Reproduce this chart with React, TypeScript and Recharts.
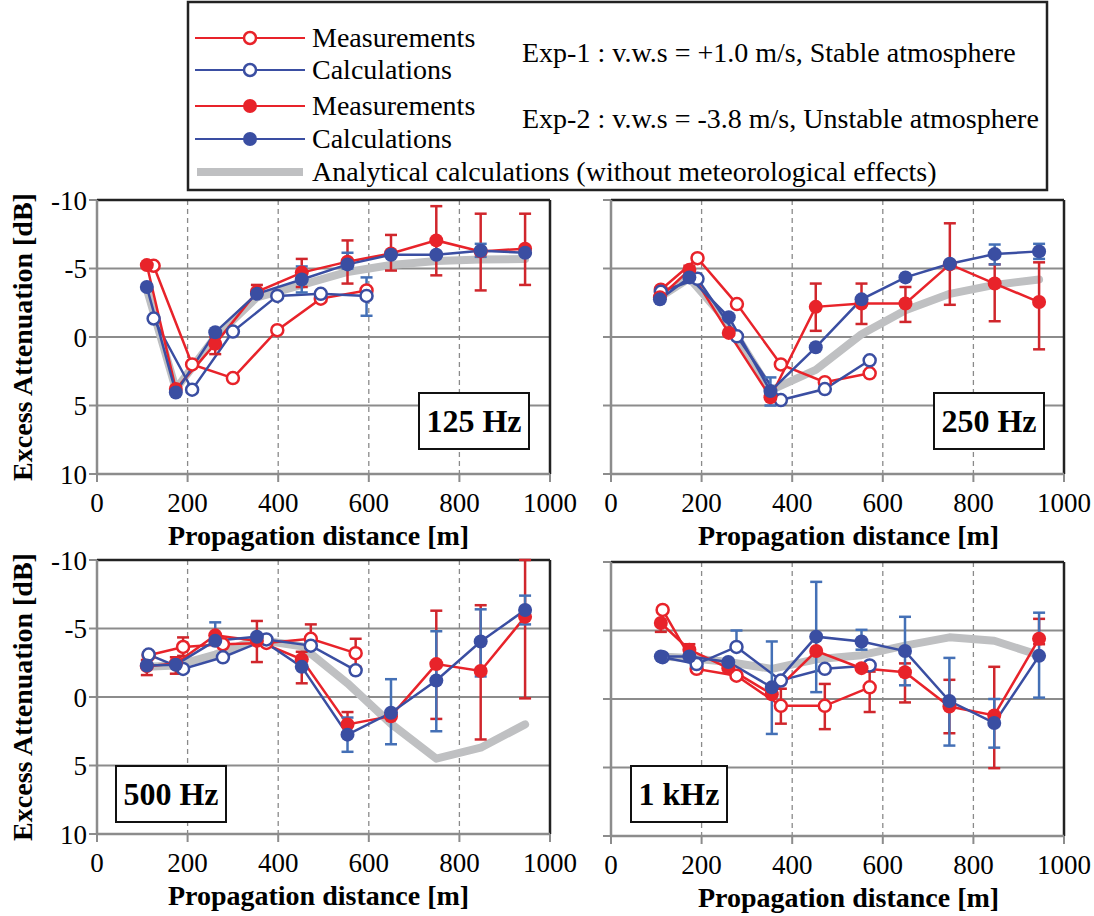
import React from "react";
import { LineChart, Line, XAxis, YAxis, CartesianGrid, ReferenceLine, ErrorBar } from "recharts";

const RED = "#e8232a";
const BLUE = "#3a4ea2";
const RED_ERR = "#d0262c";
const BLUE_ERR = "#4470b6";
const GREY = "#bfc0c2";
const AXIS = "#8c8c8c";
const FONT = '"Liberation Serif", "Times New Roman", serif';

type Range = [number, number] | null;

const xTicks = [0, 200, 400, 600, 800, 1000];
const yTicks = [-10, -5, 0, 5, 10];

// 125 Hz
const dist125Exp1 = [125, 210, 300, 398, 494, 595];
const meas125Exp1 = [-5.2, 2.0, 3.0, -0.5, -2.8, -3.4];
const calc125Exp1 = [-1.35, 3.85, -0.4, -3.0, -3.15, -3.0];
const dist125Exp2 = [110, 174, 261, 353, 452, 553, 649, 749, 847, 945];
const meas125Exp2 = [-5.25, 3.8, 0.5, -3.3, -4.7, -5.5, -6.1, -7.05, -6.25, -6.45];
const calc125Exp2 = [-3.65, 4.05, -0.35, -3.15, -4.2, -5.3, -6.0, -6.0, -6.3, -6.15];
const anal125 = [-3.5, 3.8, 0.0, -2.9, -3.8, -4.75, -5.25, -5.55, -5.65, -5.7];
const errMeas125Exp1: Range[] = [null, null, null, null, null, null];
const errCalc125Exp1: Range[] = [null, null, null, null, null, [-4.35, -1.55]];
const errMeas125Exp2: Range[] = [null, null, [0, 1.25], [-3.8, -3.0], [-5.7, -3.65], [-7.05, -3.9], [-7.45, -4.85], [-9.55, -4.5], [-9.0, -3.4], [-9.0, -3.8]];
const errCalc125Exp2: Range[] = [null, null, null, null, [-5.15, -3.25], [-6.15, -5.0], null, null, [-6.8, -5.85], null];

// 250 Hz
const dist250Exp1 = [110, 191, 278, 375, 472, 571];
const meas250Exp1 = [-3.45, -5.75, -2.4, 2.0, 3.3, 2.65];
const calc250Exp1 = [-3.3, -4.25, -0.05, 4.6, 3.8, 1.7];
const dist250Exp2 = [108, 173, 260, 352, 452, 553, 650, 748, 847, 945];
const meas250Exp2 = [-2.9, -4.9, -0.3, 4.4, -2.2, -2.45, -2.45, -5.3, -3.9, -2.55];
const calc250Exp2 = [-2.75, -4.35, -1.45, 3.95, 0.75, -2.75, -4.35, -5.35, -6.05, -6.25];
const anal250 = [-2.9, -4.3, -1.0, 3.9, 2.4, -0.2, -1.95, -3.15, -3.8, -4.2];
const errMeas250Exp1: Range[] = [null, null, null, null, null, null];
const errCalc250Exp1: Range[] = [null, null, null, null, null, null];
const errMeas250Exp2: Range[] = [null, [-5.2, -4.6], null, null, [-3.9, -0.45], [-3.9, -0.95], [-3.65, -1.1], [-8.3, -2.35], [-5.3, -1.15], [-5.45, 0.9]];
const errCalc250Exp2: Range[] = [null, null, null, [2.95, 5.0], null, null, null, null, [-6.75, -5.3], [-6.8, -5.7]];

// 500 Hz
const dist500Exp1 = [114, 190, 278, 374, 472, 571];
const meas500Exp1 = [-3.05, -3.65, -3.85, -3.95, -4.25, -3.2];
const calc500Exp1 = [-3.1, -2.05, -2.9, -4.2, -3.75, -1.95];
const dist500Exp2 = [110, 174, 261, 353, 452, 553, 649, 749, 847, 945];
const meas500Exp2 = [-2.25, -2.45, -4.5, -4.1, -2.75, 2.0, 1.4, -2.4, -1.9, -5.85];
const calc500Exp2 = [-2.3, -2.35, -4.1, -4.4, -2.2, 2.75, 1.15, -1.2, -4.05, -6.35];
const anal500 = [-2.2, -2.3, -3.1, -4.2, -3.7, -1.0, 1.95, 4.5, 3.7, 2.0];
const errMeas500Exp1: Range[] = [null, [-4.35, -3.0], null, null, [-5.3, -3.6], [-4.25, -2.2]];
const errCalc500Exp1: Range[] = [null, null, null, null, null, null];
const errMeas500Exp2: Range[] = [[-2.7, -1.6], [-2.9, -1.7], null, [-5.55, -2.55], [-3.3, -1.0], [1.1, 2.6], null, [-6.3, 1.6], [-6.7, 3.1], [-10, 0.1]];
const errCalc500Exp2: Range[] = [null, null, [-5.45, -4.1], null, null, [1.5, 4.0], [-1.3, 3.45], [-4.8, 2.5], [-6.4, -1.5], [-7.4, -5.3]];

// 1 kHz
const dist1kExp1 = [114, 189, 277, 375, 472, 571];
const meas1kExp1 = [-6.5, -2.2, -1.7, 0.5, 0.5, -0.85];
const calc1kExp1 = [-3.05, -2.55, -3.8, -1.35, -2.2, -2.45];
const dist1kExp2 = [110, 173, 259, 355, 453, 553, 649, 747, 846, 945];
const meas1kExp2 = [-5.55, -3.6, -2.25, -0.35, -3.5, -2.25, -1.95, 0.55, 1.2, -4.4];
const calc1kExp2 = [-3.1, -3.1, -2.7, -0.85, -4.55, -4.2, -3.5, 0.15, 1.75, -3.15];
const anal1k = [-3.1, -3.0, -2.7, -2.2, -2.9, -3.2, -3.9, -4.5, -4.25, -3.2];
const errMeas1kExp1: Range[] = [null, null, null, [-0.75, 1.8], [-1.1, 2.2], [-2.0, 0.95]];
const errCalc1kExp1: Range[] = [null, null, [-5.0, -3.8], null, null, null];
const errMeas1kExp2: Range[] = [[-5.6, -4.9], [-4.0, -3.3], null, null, null, null, [-2.6, 0.25], [-1.4, 2.5], [-2.35, 5.05], [-5.85, -4.0]];
const errCalc1kExp2: Range[] = [null, null, null, [-4.2, 2.55], [-8.55, -0.5], [-5.05, -3.6], [-6.0, -1.0], [-3.0, 3.4], [0.0, 3.55], [-6.3, -0.1]];

function toPoints(xs: number[], ys: number[], errs?: Range[]) {
  return xs.map((x, i) => {
    const r = errs ? errs[i] : null;
    return { x, y: ys[i], err: r ? [ys[i] - r[0], r[1] - ys[i]] : undefined };
  });
}

type PanelProps = {
  left: number;
  plotTop: number;
  isLeft: boolean;
  titleDx: number;
  d1: number[]; m1: number[]; c1: number[]; em1: Range[]; ec1: Range[];
  d2: number[]; m2: number[]; c2: number[]; em2: Range[]; ec2: Range[];
  anal: number[];
};

const MT = 14;
const PLOT_H = 274;
const XH = 75;
const MB = 5;
const MR = 30;

function Panel(p: PanelProps) {
  const yw = p.isLeft ? 97 : 40;
  const width = yw + 453 + MR;
  const height = MT + PLOT_H + XH + MB;
  const tickStyle = { fill: "#000", fontSize: 27, fontFamily: FONT };
  const titleStyle = { fill: "#000", fontSize: 28, fontWeight: "bold", fontFamily: FONT };
  const openDot = (c: string) => ({ r: 6, fill: "#fff", stroke: c, strokeWidth: 2.5 });
  const fullDot = (c: string) => ({ r: 7, fill: c, stroke: c, strokeWidth: 0 });
  return (
    <div style={{ position: "absolute", left: p.left, top: p.plotTop - MT }}>
      <LineChart width={width} height={height} margin={{ top: MT, right: MR, bottom: MB, left: 0 }}>
        <CartesianGrid vertical={false} stroke={AXIS} strokeWidth={2.2} />
        <CartesianGrid horizontal={false} stroke="#8a8a8a" strokeDasharray="5 4" strokeWidth={1.3} />
        <XAxis
          type="number"
          dataKey="x"
          domain={[0, 1000]}
          ticks={xTicks}
          interval={0}
          allowDataOverflow
          height={XH}
          tickSize={8}
          tickMargin={11}
          axisLine={{ stroke: AXIS, strokeWidth: 2.5 }}
          tickLine={{ stroke: AXIS, strokeWidth: 2 }}
          tick={tickStyle}
          label={{ value: "Propagation distance [m]", position: "insideBottom", offset: 4, dx: p.titleDx, ...titleStyle }}
        />
        <YAxis
          type="number"
          domain={[-10, 10]}
          reversed
          ticks={yTicks}
          interval={0}
          allowDataOverflow
          width={yw}
          tickSize={8}
          tickMargin={2}
          axisLine={{ stroke: AXIS, strokeWidth: 2.5 }}
          tickLine={{ stroke: AXIS, strokeWidth: 2 }}
          tick={tickStyle}
          tickFormatter={(v: number) => (p.isLeft ? String(v) : "")}
          label={p.isLeft ? { value: "Excess Attenuation [dB]", angle: -90, position: "center", dx: -26, ...titleStyle } : undefined}
        />
        <ReferenceLine y={-10} stroke="#222" strokeWidth={2.5} />
        <ReferenceLine x={1000} stroke="#222" strokeWidth={2.5} />
        <Line data={toPoints(p.d2, p.anal)} dataKey="y" type="linear" stroke={GREY} strokeWidth={8} strokeLinejoin="round" strokeLinecap="round" dot={false} activeDot={false} isAnimationActive={false} />
        <Line data={toPoints(p.d1, p.m1, p.em1)} dataKey="y" type="linear" stroke={RED} strokeWidth={2.5} dot={openDot(RED)} activeDot={false} isAnimationActive={false}>
          <ErrorBar dataKey="err" width={6} stroke={RED_ERR} strokeWidth={2.5} direction="y" />
        </Line>
        <Line data={toPoints(p.d1, p.c1, p.ec1)} dataKey="y" type="linear" stroke={BLUE} strokeWidth={2.5} dot={openDot(BLUE)} activeDot={false} isAnimationActive={false}>
          <ErrorBar dataKey="err" width={6} stroke={BLUE_ERR} strokeWidth={2.5} direction="y" />
        </Line>
        <Line data={toPoints(p.d2, p.m2, p.em2)} dataKey="y" type="linear" stroke={RED} strokeWidth={2.5} dot={fullDot(RED)} activeDot={false} isAnimationActive={false}>
          <ErrorBar dataKey="err" width={6} stroke={RED_ERR} strokeWidth={2.5} direction="y" />
        </Line>
        <Line data={toPoints(p.d2, p.c2, p.ec2)} dataKey="y" type="linear" stroke={BLUE} strokeWidth={2.5} dot={fullDot(BLUE)} activeDot={false} isAnimationActive={false}>
          <ErrorBar dataKey="err" width={6} stroke={BLUE_ERR} strokeWidth={2.5} direction="y" />
        </Line>
      </LineChart>
    </div>
  );
}

function Tag({ x, y, w, text }: { x: number; y: number; w: number; text: string }) {
  return (
    <div
      style={{
        position: "absolute", left: x, top: y, width: w, height: 58, boxSizing: "border-box",
        border: "2.5px solid #111", background: "#fff", display: "flex", alignItems: "center",
        justifyContent: "center", fontFamily: FONT, fontWeight: "bold", fontSize: 32, color: "#000",
      }}
    >
      {text}
    </div>
  );
}

function Legend() {
  const rows = [
    { y: 38, c: RED, open: true, t: "Measurements" },
    { y: 70, c: BLUE, open: true, t: "Calculations" },
    { y: 106, c: RED, open: false, t: "Measurements" },
    { y: 139, c: BLUE, open: false, t: "Calculations" },
  ];
  return (
    <svg width={1094} height={200} style={{ position: "absolute", left: 0, top: 0 }}>
      <rect x={188} y={2} width={859} height={188} fill="#fff" stroke="#222" strokeWidth={2.5} />
      {rows.map((r, i) => (
        <g key={i}>
          <line x1={195} x2={305} y1={r.y} y2={r.y} stroke={r.c} strokeWidth={2} />
          <circle cx={250} cy={r.y} r={r.open ? 6 : 7} fill={r.open ? "#fff" : r.c} stroke={r.c} strokeWidth={r.open ? 2.5 : 0} />
          <text x={312} y={r.y + 8.5} fontFamily={FONT} fontSize={28} fill="#000">{r.t}</text>
        </g>
      ))}
      <line x1={197} x2={303} y1={172} y2={172} stroke={GREY} strokeWidth={8} />
      <text x={312} y={181} fontFamily={FONT} fontSize={28} fill="#000">Analytical calculations (without meteorological effects)</text>
      <text x={522} y={62} fontFamily={FONT} fontSize={28} fill="#000">Exp-1 : v.w.s = +1.0 m/s, Stable atmosphere</text>
      <text x={522} y={128} fontFamily={FONT} fontSize={28} fill="#000">Exp-2 : v.w.s = -3.8 m/s, Unstable atmosphere</text>
    </svg>
  );
}

export default function App() {
  return (
    <div style={{ position: "absolute", left: 0, top: 0, width: 1094, height: 916, background: "#fff", overflow: "hidden" }}>
      <Legend />
      <Panel left={0} plotTop={200} isLeft titleDx={-5}
        d1={dist125Exp1} m1={meas125Exp1} c1={calc125Exp1} em1={errMeas125Exp1} ec1={errCalc125Exp1}
        d2={dist125Exp2} m2={meas125Exp2} c2={calc125Exp2} em2={errMeas125Exp2} ec2={errCalc125Exp2}
        anal={anal125} />
      <Panel left={571} plotTop={200} isLeft={false} titleDx={11}
        d1={dist250Exp1} m1={meas250Exp1} c1={calc250Exp1} em1={errMeas250Exp1} ec1={errCalc250Exp1}
        d2={dist250Exp2} m2={meas250Exp2} c2={calc250Exp2} em2={errMeas250Exp2} ec2={errCalc250Exp2}
        anal={anal250} />
      <Panel left={0} plotTop={560} isLeft titleDx={-5}
        d1={dist500Exp1} m1={meas500Exp1} c1={calc500Exp1} em1={errMeas500Exp1} ec1={errCalc500Exp1}
        d2={dist500Exp2} m2={meas500Exp2} c2={calc500Exp2} em2={errMeas500Exp2} ec2={errCalc500Exp2}
        anal={anal500} />
      <Panel left={571} plotTop={562} isLeft={false} titleDx={11}
        d1={dist1kExp1} m1={meas1kExp1} c1={calc1kExp1} em1={errMeas1kExp1} ec1={errCalc1kExp1}
        d2={dist1kExp2} m2={meas1kExp2} c2={calc1kExp2} em2={errMeas1kExp2} ec2={errCalc1kExp2}
        anal={anal1k} />
      <Tag x={418} y={392} w={112} text="125 Hz" />
      <Tag x={933} y={392} w={112} text="250 Hz" />
      <Tag x={115} y={765} w={112} text="500 Hz" />
      <Tag x={630} y={765} w={98} text="1 kHz" />
    </div>
  );
}
